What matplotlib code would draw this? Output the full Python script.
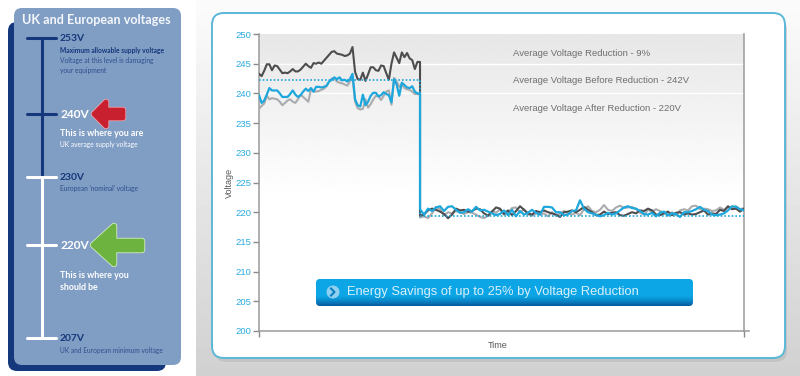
import numpy as np
import matplotlib
matplotlib.use('Agg')
import matplotlib.pyplot as plt
from matplotlib.patches import FancyBboxPatch, Polygon, Circle

# voltage readings before the reduction
dark_before = [243.3,242.9,243.8,244.9,244.9,243.9,244.7,244.6,244.0,243.4,
               243.5,243.4,243.7,244.1,243.7,243.7,244.0,244.5,245.0,244.6,
               244.3,245.1,245.0,245.2,245.0,245.5,246.0,246.5,247.0,247.1,
               246.7,246.6,246.5,246.3,246.4,246.7,247.8,243.6,242.4,242.3,
               243.5,242.1,243.2,244.4,244.4,243.9,243.8,244.7,244.6,243.4,
               242.3,245.0,246.9,246.0,245.1,246.9,246.1,246.8,245.9,245.6,
               244.1,245.3,245.3]
blue_before = [239.7,238.4,238.8,239.8,240.9,240.5,240.5,240.5,240.0,239.4,
               239.4,239.4,239.9,240.5,239.8,239.4,239.7,240.3,240.8,240.4,
               240.9,240.3,241.1,241.1,241.0,241.1,241.3,242.0,242.3,242.7,
               242.4,242.7,242.2,242.3,242.0,242.4,243.3,239.0,238.0,237.8,
               239.8,238.0,238.6,239.6,240.1,240.1,239.5,239.7,240.2,239.9,
               239.7,238.5,242.4,241.5,239.6,241.8,241.4,241.0,240.9,241.2,
               240.3,240.0,240.0]
grey_before = [237.4,237.9,238.3,239.6,239.0,239.2,239.1,239.0,238.6,238.0,
               238.4,238.8,239.0,238.6,238.4,239.0,239.8,239.4,239.0,238.6,
               240.7,240.3,240.3,240.4,240.6,240.8,241.2,242.0,242.5,242.5,
               242.0,241.8,241.7,241.5,241.3,242.0,242.8,238.6,237.5,237.3,
               237.4,239.0,237.6,238.2,239.0,239.6,239.5,238.9,239.6,240.3,
               240.5,238.1,242.6,242.0,241.1,241.6,240.9,240.7,240.6,240.3,
               239.9,239.9,239.8]

# voltage readings after the reduction
blue_after = [220.5,219.6,220.6,220.2,220.8,221.0,220.2,220.9,221.0,220.4,
              219.9,220.0,220.5,220.1,220.9,220.3,220.4,220.1,219.8,219.5,
              219.7,220.3,219.5,220.4,219.3,220.2,219.6,219.9,220.4,219.9,
              219.6,220.9,220.9,220.8,220.0,220.0,219.5,219.6,220.2,220.3,
              222.0,220.6,220.0,219.8,219.6,219.3,219.5,219.9,219.6,219.8,
              220.3,220.8,221.0,220.7,220.6,220.2,219.7,219.6,219.9,219.3,
              219.9,220.1,219.5,219.8,219.7,219.2,220.0,220.0,220.2,220.5,
              220.9,220.4,220.2,219.6,219.5,219.6,219.8,220.3,221.0,220.9,
              220.5,220.3]
dark_after = [219.4,219.6,220.3,220.6,220.4,220.1,219.7,219.0,219.6,220.6,
              220.3,220.4,220.1,220.2,220.6,220.5,219.8,219.4,220.1,220.8,
              220.6,219.7,220.3,219.5,220.2,221.0,220.4,219.8,219.6,220.2,
              220.0,220.3,220.0,219.8,219.6,219.2,220.0,220.1,220.3,220.0,
              220.4,220.9,220.4,220.0,219.5,219.6,220.1,219.7,219.9,220.0,
              219.5,219.4,219.7,220.0,219.8,220.3,220.2,220.6,220.3,219.6,
              219.5,219.8,220.1,219.5,219.9,220.0,219.6,219.8,219.6,219.7,
              220.0,220.3,219.6,219.8,219.7,220.4,220.2,221.0,220.5,220.6,
              220.1,220.6]
grey_after = [219.1,219.3,219.0,219.8,220.9,220.5,219.5,220.0,219.8,220.2,
              220.0,219.7,220.0,219.9,219.6,219.2,219.0,219.4,220.2,219.9,
              220.5,219.6,219.9,220.7,220.8,219.9,220.5,219.6,219.4,219.8,
              219.6,219.8,219.3,220.0,219.4,219.8,220.2,219.8,219.6,219.9,
              219.5,220.5,221.0,220.2,220.0,220.4,221.2,220.4,220.2,220.8,
              221.1,220.7,220.8,220.9,220.5,219.9,219.6,220.4,220.1,220.5,
              220.2,219.9,219.4,220.0,219.5,220.3,220.5,220.3,221.0,221.1,
              220.5,220.6,220.5,220.2,220.3,220.8,220.4,220.9,220.6,221.0,
              220.5,220.7]

avg_before = 242.3
avg_after = 219.3
y_ticks = [200,205,210,215,220,225,230,235,240,245,250]
notes = ['Average Voltage Reduction - 9%',
         'Average Voltage Before Reduction - 242V',
         'Average Voltage After Reduction - 220V']
note_levels = [246.7, 242.2, 237.5]
scale_volts = ['253V','240V','230V','220V','207V']

BLUE = '#1ea7dc'
DARK = '#4d4d4f'
GREY = '#a9abae'
NAVY = '#15377c'

fig = plt.figure(figsize=(8.0,3.76), dpi=100, facecolor='white')
plt.rcParams['font.family'] = ['Liberation Sans','DejaVu Sans']

# page layer, drawn in pixels
bg = fig.add_axes([0,0,1,1], zorder=0)
shade = np.linspace(0.985,0.82,64).reshape(-1,1)
bg.imshow(shade, extent=(196,800,376,0), cmap='gray', vmin=0, vmax=1, aspect='auto', zorder=1)
bg.set_xlim(0,800)
bg.set_ylim(376,0)
bg.axis('off')
bg.add_patch(FancyBboxPatch((215,18),572,344, boxstyle='round,pad=0,rounding_size=12',
                            fc='#b9b9b9', ec='none', alpha=0.6, zorder=2))
bg.add_patch(FancyBboxPatch((212,13),573,345, boxstyle='round,pad=0,rounding_size=12',
                            fc='white', ec='#5bb8d8', lw=1.4, zorder=3))

# left panel
bg.add_patch(FancyBboxPatch((8,22),158,349, boxstyle='round,pad=0,rounding_size=9',
                            fc=NAVY, ec='none', zorder=2))
bg.add_patch(FancyBboxPatch((14,8),167,357, boxstyle='round,pad=0,rounding_size=8',
                            fc='#809dc4', ec='none', zorder=3))
bg.text(22,20,'UK and European voltages', color='#f4f7fb', fontsize=9.1, fontweight='bold',
        family=['Lato','DejaVu Sans'], va='center', zorder=5)

bg.plot([42,42],[38,177], color=NAVY, lw=2.2, solid_capstyle='butt', zorder=4)
bg.plot([42,42],[177,338], color='white', lw=2.2, solid_capstyle='butt', zorder=4)
scale_y = [38,114,177,245,338]
scale_col = [NAVY,NAVY,'white','white','white']
label_col = [NAVY,'white',NAVY,'white',NAVY]
for v, yy, c, lc in zip(scale_volts, scale_y, scale_col, label_col):
    bg.plot([27,56],[yy,yy], color=c, lw=2.2, solid_capstyle='round', zorder=4)
    size = 8.6 if v in ('240V','220V') else 7.4
    bg.text(60,yy+0.5,v, color=lc, fontsize=size, fontweight='bold',
            family=['Lato','DejaVu Sans'], va='center', zorder=5)

def small(x,y,s,c,size=4.6,bold=False):
    bg.text(x,y,s,color=c,fontsize=size,fontweight='bold' if bold else 'normal',
            family=['Lato','DejaVu Sans'],va='center',zorder=5)

small(60,50,'Maximum allowable supply voltage',NAVY,4.75,True)
small(60,60.5,'Voltage at this level is damaging','#2f4f8c',4.8)
small(60,70,'your equipment','#2f4f8c',4.8)
small(60,134,'This is where you are','white',6.4,True)
small(60,145,'UK average supply voltage','white',4.8)
small(60,188.5,"European 'nominal' voltage",'#2f4f8c',4.8)
small(60,275,'This is where you','white',6.4,True)
small(60,287,'should be','white',6.4,True)
small(60,351,'UK and European minimum voltage','#2f4f8c',4.8)

# arrows, a pale rim under a rounded fill
red_pts = [(94,114),(106,102),(106,110),(123,110),(123,118),(106,118),(106,126)]
green_pts = [(93,245),(114,226),(114,241),(142,241),(142,250),(114,250),(114,264)]
for pts, fill, rim in [(red_pts,'#c8202f','#e9a6ab'),(green_pts,'#6cb33f','#d5ecc4')]:
    bg.add_patch(Polygon(pts, closed=True, fc=rim, ec=rim, lw=4.6, joinstyle='round', zorder=5))
    bg.add_patch(Polygon(pts, closed=True, fc=fill, ec=fill, lw=3.4, joinstyle='round', zorder=6))

# chart
ax = fig.add_axes([259/800,1-331/376,485/800,297/376], zorder=2)
ax.patch.set_alpha(0)
t_before = np.arange(len(dark_before))
t_after = 62 + 1.54*np.arange(len(dark_after))
t_end = t_after[-1]

grad = np.ones((100,1))
grad[:55,0] = np.linspace(0.905,1.0,55)
ax.imshow(grad, extent=(0,t_end,200,250), cmap='gray', vmin=0, vmax=1, aspect='auto', zorder=0)
ax.axhline(245, color='white', lw=1, zorder=1)
ax.axhline(240, color='white', lw=1, zorder=1)

t_all = np.r_[t_before, t_after]
ax.plot(t_all, grey_before+grey_after, color=GREY, lw=1.5, zorder=3)
ax.plot(t_all, dark_before+dark_after, color=DARK, lw=1.5, zorder=4)
ax.plot(t_all, blue_before+blue_after, color=BLUE, lw=1.6, zorder=5)
ax.plot([0,62,62,t_end],[avg_before,avg_before,avg_after,avg_after], color=BLUE, lw=1.2,
        ls=(0,(1,1.2)), zorder=6)

ax.set_xlim(0,t_end)
ax.set_ylim(200,250)
ax.set_yticks(y_ticks)
ax.tick_params(axis='y', colors='#8a8a8a', labelcolor='#29abe2', labelsize=6.8, length=4, width=1, pad=1.5)
ax.set_xticks([0,t_end])
ax.set_xticklabels([])
ax.tick_params(axis='x', colors='#8a8a8a', length=4, width=1)
ax.spines['top'].set_visible(False)
for s in ['left','right','bottom']:
    ax.spines[s].set_color('#9a9a9a')
    ax.spines[s].set_linewidth(1.1)
ax.set_ylabel('Voltage', fontsize=6.5, color='#58595b', labelpad=1)
ax.set_xlabel('Time', fontsize=6.5, color='#58595b', labelpad=1)
ax.xaxis.set_label_coords(0.493,-0.033)

for s, lv in zip(notes, note_levels):
    ax.text(0.523, lv, s, fontsize=6.8, color='#6d6e71', va='center',
            transform=ax.get_yaxis_transform(), zorder=7)

# top layer, button and axis stub
top = fig.add_axes([0,0,1,1], zorder=3)
top.patch.set_alpha(0)
box = FancyBboxPatch((316,279),377,27, boxstyle='round,pad=0,rounding_size=4', fc='none', ec='none')
btn_top = np.array([0.05,0.65,0.90])
btn_bot = np.array([0.02,0.36,0.63])
btn = np.array([btn_top + (btn_bot-btn_top)*max(0,(i-16)/11)**1.5 for i in range(28)])
im = top.imshow(btn.reshape(-1,1,3), extent=(316,693,306,279), aspect='auto', zorder=2)
top.add_patch(box)
im.set_clip_path(box)
top.set_xlim(0,800)
top.set_ylim(376,0)
top.axis('off')
top.plot([744,749],[331,331], color='#9a9a9a', lw=1.1, zorder=2)
top.add_patch(Circle((333,292),6.5, fc='#8fd0f0', ec='none', zorder=3))
top.plot([331,334.5,331],[288.5,292,295.5], color='#0d7fc0', lw=1.5, zorder=4)
top.text(347,292,'Energy Savings of up to 25% by Voltage Reduction', color='#d9f0fb',
         fontsize=9.3, va='center', zorder=4)

fig.savefig('out.png', dpi=100)
